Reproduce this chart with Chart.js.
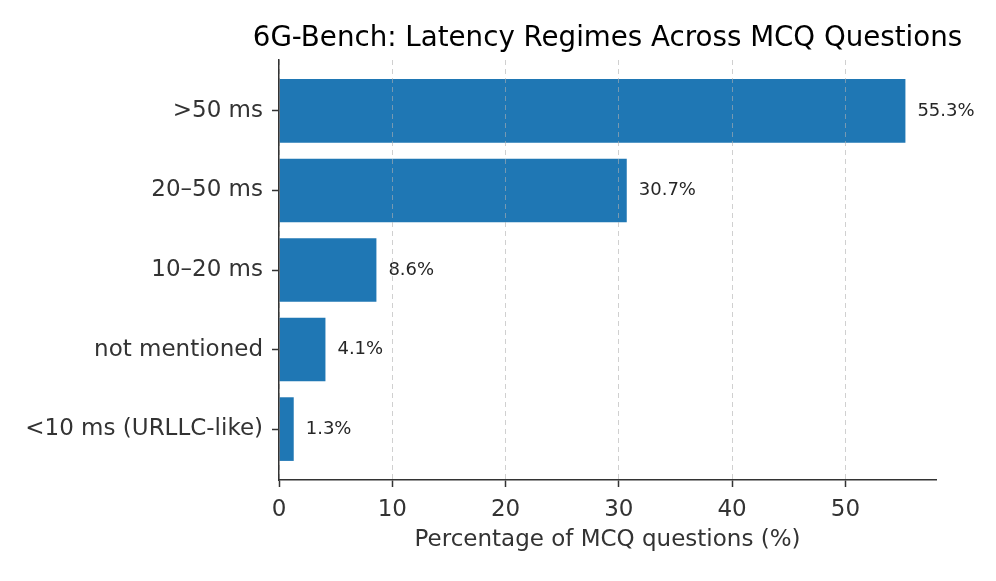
<!DOCTYPE html>
<html>
<head>
<meta charset="utf-8">
<script src="https://cdn.jsdelivr.net/npm/chart.js@4.4.0/dist/chart.umd.min.js"></script>
<style>
  html, body { margin: 0; padding: 0; background: #ffffff; }
  #wrap { width: 996px; height: 581px; }
</style>
</head>
<body>
<div id="wrap"><canvas id="c" width="996" height="581"></canvas></div>
<script>
const categories = [">50 ms", "20–50 ms", "10–20 ms", "not mentioned", "<10 ms (URLLC-like)"];
const percentages = [55.3, 30.7, 8.6, 4.1, 1.3];
const xTickValues = [0, 10, 20, 30, 40, 50];
const titleText = "6G-Bench: Latency Regimes Across MCQ Questions";
const xAxisTitle = "Percentage of MCQ questions (%)";

const FONT = "'DejaVu Sans', sans-serif";

const barLabels = {
  id: 'barLabels',
  afterDatasetsDraw(chart) {
    const ctx = chart.ctx;
    const meta = chart.getDatasetMeta(0);
    ctx.save();
    ctx.font = "18px " + FONT;
    ctx.fillStyle = "#262626";
    ctx.textAlign = "left";
    ctx.textBaseline = "middle";
    meta.data.forEach((bar, i) => {
      ctx.fillText(percentages[i].toFixed(1) + "%", bar.x + 12, bar.y);
    });
    ctx.restore();
  }
};

const centeredTitle = {
  id: 'centeredTitle',
  afterDraw(chart) {
    const ctx = chart.ctx;
    const a = chart.chartArea;
    ctx.save();
    ctx.font = "27.7px " + FONT;
    ctx.fillStyle = "#000000";
    ctx.textAlign = "center";
    ctx.textBaseline = "middle";
    ctx.fillText(titleText, (a.left + a.right) / 2, 38.5);
    ctx.restore();
  }
};

new Chart(document.getElementById('c'), {
  type: 'bar',
  data: {
    datasets: [{
      data: categories.map((c, i) => ({ x: percentages[i], y: i })),
      backgroundColor: '#1f77b4',
      borderWidth: 0,
      categoryPercentage: 0.8,
      barPercentage: 1.0
    }]
  },
  options: {
    indexAxis: 'y',
    responsive: false,
    animation: false,
    devicePixelRatio: 1,
    layout: { padding: { top: 60, right: 60, bottom: 0, left: 0 } },
    plugins: { legend: { display: false }, tooltip: { enabled: false }, title: { display: false } },
    scales: {
      x: {
        type: 'linear',
        min: 0,
        max: 58,
        afterBuildTicks(scale) { scale.ticks = xTickValues.map(v => ({ value: v })); },
        afterFit(scale) { scale.height = 101; },
        grid: {
          display: true,
          drawOnChartArea: true,
          color: 'rgba(176,176,176,0.6)',
          lineWidth: 1,
          drawTicks: true,
          tickLength: 7,
          tickColor: '#333333',
          tickWidth: 1.5,
          tickBorderDash: [],
          z: 1
        },
        border: { display: true, color: '#333333', width: 1.5, dash: [5, 4], z: 1 },
        ticks: {
          color: '#333333',
          font: { family: FONT, size: 23 },
          padding: 9
        },
        title: {
          display: true,
          text: xAxisTitle,
          color: '#333333',
          font: { family: FONT, size: 23 },
          padding: { top: 4, bottom: 27 }
        }
      },
      y: {
        type: 'linear',
        reverse: true,
        offset: false,
        min: -0.64,
        max: 4.64,
        afterBuildTicks(scale) { scale.ticks = categories.map((c, i) => ({ value: i })); },
        afterFit(scale) { scale.width = 279; },
        grid: {
          display: true,
          offset: false,
          drawOnChartArea: false,
          drawTicks: true,
          tickLength: 7,
          tickColor: '#333333',
          tickWidth: 1.5
        },
        border: { display: true, color: '#333333', width: 1.5, z: 1 },
        ticks: {
          color: '#333333',
          font: { family: FONT, size: 23 },
          padding: 9,
          callback: (v) => categories[v]
        }
      }
    }
  },
  plugins: [barLabels, centeredTitle]
});
</script>
</body>
</html>
